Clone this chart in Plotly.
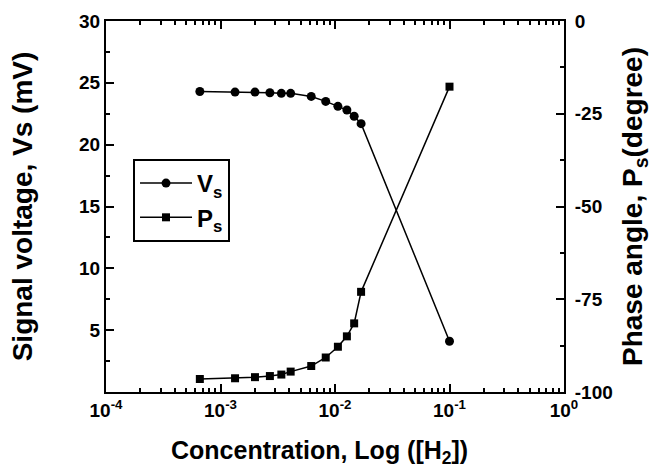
import plotly.graph_objects as go

conc = [6.6e-4, 1.34e-3, 2.0e-3, 2.7e-3, 3.4e-3, 4.1e-3, 6.2e-3, 8.3e-3,
        1.06e-2, 1.27e-2, 1.47e-2, 1.69e-2, 1.0e-1]
vs = [24.3, 24.25, 24.25, 24.2, 24.15, 24.15, 23.9, 23.5, 23.1, 22.8, 22.3, 21.7, 4.1]
ps = [-96.5, -96.3, -96.0, -95.7, -95.3, -94.5, -93.0, -90.7, -87.8, -85.0, -81.5, -73.0, -17.7]

x_ticks = [1e-4, 1e-3, 1e-2, 1e-1, 1e0]
x_labels = ["10<sup>-4</sup>", "10<sup>-3</sup>", "10<sup>-2</sup>", "10<sup>-1</sup>", "10<sup>0</sup>"]
y1_ticks = [5, 10, 15, 20, 25, 30]
y2_ticks = [0, -25, -50, -75, -100]
y2_labels = ["0", "-25", "-50", "-75", "-100"]

x_minor = [m * 10 ** e for e in range(-4, 0) for m in range(2, 10)]
y1_minor = [2.5, 7.5, 12.5, 17.5, 22.5, 27.5]
y2_minor = [-12.5, -37.5, -62.5, -87.5]

FONT = "Liberation Sans"

fig = go.Figure()
fig.add_trace(go.Scatter(x=conc, y=vs, mode="lines+markers", name="V<sub>s</sub>",
                         line=dict(color="black", width=1.5),
                         marker=dict(symbol="circle", size=9, color="black")))
fig.add_trace(go.Scatter(x=conc, y=ps, mode="lines+markers", name="P<sub>s</sub>",
                         yaxis="y2",
                         line=dict(color="black", width=1.5),
                         marker=dict(symbol="square", size=8, color="black")))

tickfont = dict(family=FONT, size=19, color="black", weight="bold")
titlefont = dict(family=FONT, size=28, color="black", weight="bold")

fig.update_layout(
    width=654, height=476,
    margin=dict(l=106, r=90, t=21, b=84),
    paper_bgcolor="white", plot_bgcolor="white",
    font=dict(family=FONT, color="black"),
    showlegend=True,
    legend=dict(x=0.059, y=0.628, xanchor="left", yanchor="top",
                bordercolor="black", borderwidth=2, bgcolor="white",
                font=dict(family=FONT, size=24, color="black", weight="bold"),
                tracegroupgap=0, itemwidth=52),
    xaxis=dict(type="log", range=[-4, 0], tickvals=x_ticks, ticktext=x_labels,
               ticks="inside", ticklen=8, tickwidth=2, tickcolor="black",
               showline=True, linewidth=2, linecolor="black", mirror="ticks",
               showgrid=False, zeroline=False, tickfont=tickfont,
               minor=dict(tickvals=x_minor, ticks="inside", ticklen=4, tickwidth=2,
                          tickcolor="black", showgrid=False)),
    yaxis=dict(range=[0, 30], tickvals=y1_ticks,
               ticks="inside", ticklen=8, tickwidth=2, tickcolor="black",
               showline=True, linewidth=2, linecolor="black",
               showgrid=False, zeroline=False, tickfont=tickfont,
               minor=dict(tickvals=y1_minor, ticks="inside", ticklen=4, tickwidth=2,
                          tickcolor="black", showgrid=False),
               title=dict(text="Signal voltage, Vs (mV)", font=titlefont, standoff=38)),
    yaxis2=dict(range=[-100, 0], tickvals=y2_ticks, ticktext=y2_labels,
                overlaying="y", side="right", ticklabelstandoff=5,
                ticks="inside", ticklen=8, tickwidth=2, tickcolor="black",
                showline=True, linewidth=2, linecolor="black",
                showgrid=False, zeroline=False, tickfont=tickfont,
                minor=dict(tickvals=y2_minor, ticks="inside", ticklen=4, tickwidth=2,
                           tickcolor="black", showgrid=False),
                title=dict(text="Phase angle, P<sub>s</sub>(degree)", font=titlefont, standoff=11)),
    annotations=[dict(text="Concentration, Log ([H<sub>2</sub>])", xref="paper", yref="paper",
                      x=0.467, y=-0.162, xanchor="center", yanchor="middle",
                      showarrow=False, font=dict(family=FONT, size=25, color="black", weight="bold"))],
)

fig.write_html("out.html", post_script="document.body.style.margin='0';",
               config={"displayModeBar": False})
